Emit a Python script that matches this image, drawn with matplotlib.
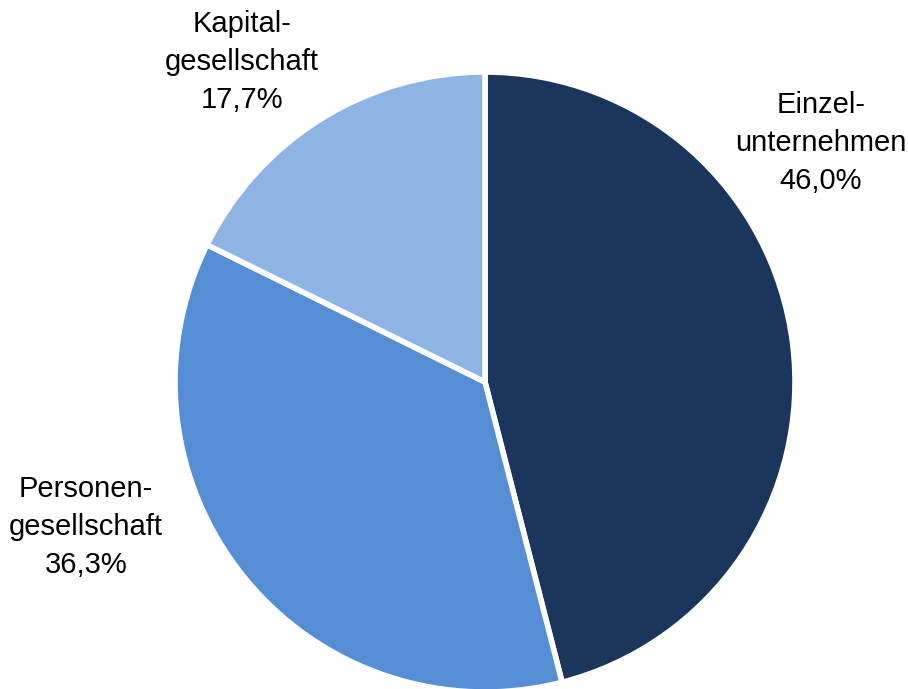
import matplotlib.pyplot as plt

categories = ['Einzel-\nunternehmen', 'Personen-\ngesellschaft', 'Kapital-\ngesellschaft']
shares = [46.0, 36.3, 17.7]
colors = ['#1b365d', '#558ed5', '#8eb4e3']

plt.rcParams['font.family'] = ['Liberation Sans Narrow', 'Liberation Sans', 'DejaVu Sans']

fig = plt.figure(figsize=(9.08, 6.89), dpi=100)
ax = fig.add_axes([0, 0, 1, 1])

ax.pie(shares, colors=colors, startangle=90, counterclock=False,
       center=(485, 307), radius=310,
       wedgeprops=dict(edgecolor='white', linewidth=4))

# pie resets the limits, so set them afterwards
ax.set_xlim(0, 908)
ax.set_ylim(0, 689)
ax.set_aspect('equal')
ax.axis('off')

# label positions (pixel coords, y from bottom)
label_pos = [(821, 546), (86, 162), (242, 627)]
for cat, val, (x, y) in zip(categories, shares, label_pos):
    txt = f"{cat}\n{val:.1f}%".replace('.', ',')
    ax.text(x, y, txt, ha='center', va='center', fontsize=21, linespacing=1.45)

fig.savefig('out.png', dpi=100)
